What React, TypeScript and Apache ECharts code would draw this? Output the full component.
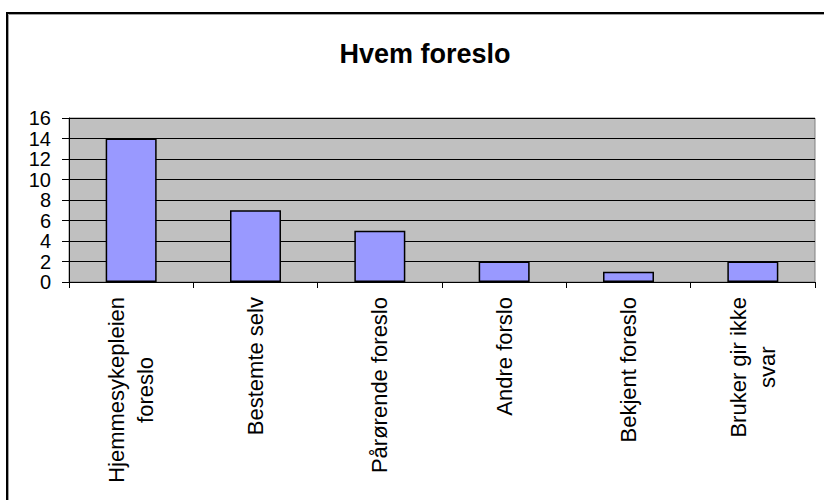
import React, { useEffect, useRef } from "react";
import * as echarts from "echarts";

const categories = [
  "Hjemmesykepleien\nforeslo",
  "Bestemte selv",
  "Pårørende foreslo",
  "Andre forslo",
  "Bekjent foreslo",
  "Bruker gir ikke\nsvar",
];
const values = [14, 7, 5, 2, 1, 2];
const titleText = "Hvem foreslo";

const FONT = "'Liberation Sans', Arial, sans-serif";
const LABEL_SIZE = 22;

function measure(text: string, size: number): number {
  const c = document.createElement("canvas");
  const ctx = c.getContext("2d");
  if (!ctx) return text.length * size * 0.5;
  ctx.font = `${size}px ${FONT}`;
  return ctx.measureText(text).width;
}

export default function App() {
  const ref = useRef<HTMLDivElement>(null);
  useEffect(() => {
    if (!ref.current) return;
    const chart = echarts.init(ref.current, undefined, { renderer: "svg" });

    // rich styles so that the lines of each multi-line label are centred on each other
    const rich: Record<string, any> = {};
    categories.forEach((cat, i) => {
      const lines = cat.split("\n");
      const widths = lines.map((l) => measure(l, LABEL_SIZE));
      const W = Math.max(...widths);
      lines.forEach((_, j) => {
        const p = (W - widths[j]) / 2;
        rich[`t${i}_${j}`] = {
          fontSize: LABEL_SIZE,
          fontFamily: FONT,
          color: "#000",
          lineHeight: 29,
          padding: [0, p, 0, p],
        };
      });
    });

    chart.setOption({
      animation: false,
      backgroundColor: "#ffffff",
      textStyle: { fontFamily: FONT },
      title: {
        text: titleText,
        left: 420,
        textAlign: "center",
        top: 35,
        textStyle: { fontFamily: FONT, fontWeight: "bold", fontSize: 27, color: "#000" },
      },
      graphic: [
        {
          type: "rect",
          shape: { x: 8.5, y: 14.5, width: 830, height: 500 },
          style: { fill: "none", stroke: "#a0a0a0", lineWidth: 1 },
          z: 99,
        },
        {
          type: "rect",
          shape: { x: 7, y: 13, width: 830, height: 500 },
          style: { fill: "none", stroke: "#000", lineWidth: 2 },
          z: 100,
        },
      ],
      grid: {
        left: 69,
        right: 9,
        top: 118,
        bottom: 218,
        show: true,
        backgroundColor: "#c0c0c0",
        borderColor: "#808080",
        borderWidth: 1,
      },
      xAxis: {
        type: "category",
        data: categories,
        axisLine: { lineStyle: { color: "#000", width: 1 } },
        axisTick: { show: true, length: 6, lineStyle: { color: "#000" } },
        axisLabel: {
          interval: 0,
          rotate: 90,
          margin: 15,
          color: "#000",
          fontSize: LABEL_SIZE,
          fontFamily: FONT,
          formatter: (v: string, idx: number) =>
            v
              .split("\n")
              .map((s, j) => `{t${idx}_${j}|${s}}`)
              .join("\n"),
          rich,
        },
      },
      yAxis: {
        type: "value",
        min: 0,
        max: 16,
        interval: 2,
        axisLine: { show: true, lineStyle: { color: "#000", width: 1 } },
        axisTick: { show: true, length: 7, lineStyle: { color: "#000", width: 1 } },
        axisLabel: {
          color: "#000",
          fontSize: 20,
          lineHeight: 17,
          margin: 18,
          fontFamily: FONT,
          showMinLabel: true,
          showMaxLabel: true,
          hideOverlap: false,
        },
        splitLine: { show: true, lineStyle: { color: "#000", width: 1 } },
      },
      series: [
        {
          type: "bar",
          data: values,
          barWidth: "41%",
          itemStyle: { color: "#9999ff", borderColor: "#000", borderWidth: 1.5 },
        },
      ],
    });
    return () => chart.dispose();
  }, []);
  return (
    <div
      ref={ref}
      style={{ position: "fixed", left: 0, top: 0, width: 824, height: 500 }}
    />
  );
}
